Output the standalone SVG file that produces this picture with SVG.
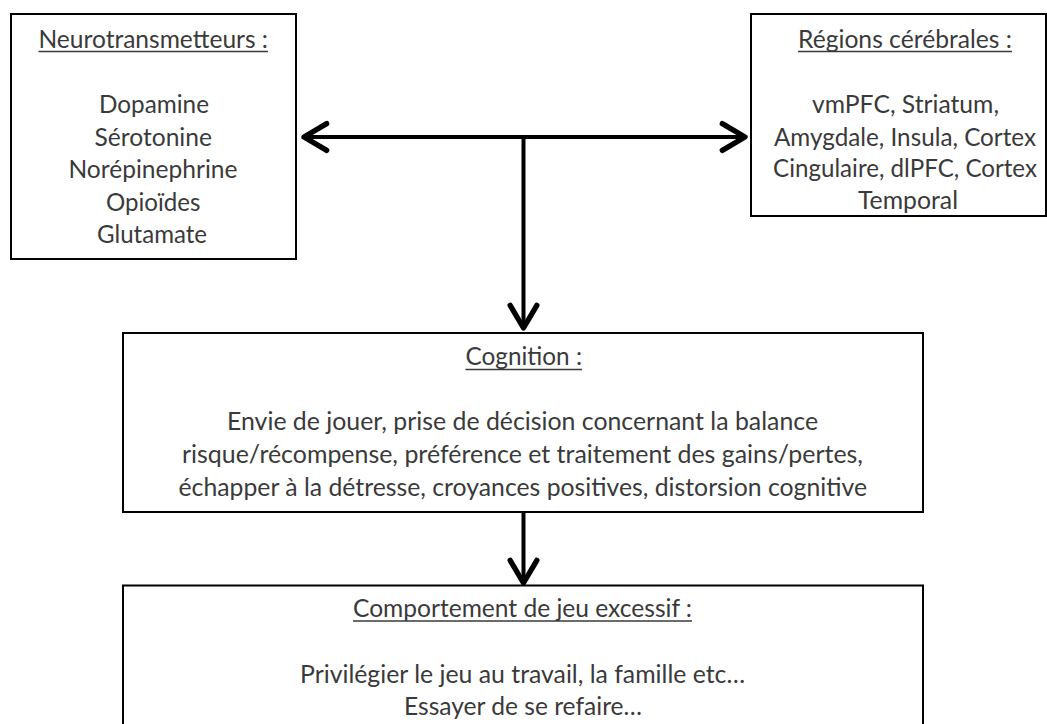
<svg xmlns="http://www.w3.org/2000/svg" width="1047" height="724" viewBox="0 0 1047 724">
<defs>
<style>
.box{fill:#fff;stroke:#000;stroke-width:2}
.t{font-family:Lato,"Open Sans","Liberation Sans",sans-serif;font-size:24.5px;fill:#3a3a3a}
.ul{stroke:#3a3a3a;stroke-width:1.5}
.con{stroke:#000;stroke-width:4;fill:none}
</style>
<marker id="arr" markerUnits="userSpaceOnUse" markerWidth="40" markerHeight="40" viewBox="-25 -15 30 30" refX="0" refY="0" orient="auto-start-reverse" overflow="visible">
<path d="M-17,-10 L0,0 L-17,10" fill="none" stroke="#000" stroke-width="4" stroke-linejoin="round" stroke-linecap="round"/>
</marker>
</defs>
<rect width="1047" height="724" fill="#fff"/>
<g id="neurotransmetteurs">
<rect class="box" x="11" y="14" width="285" height="245"/>
<text class="t" x="38.5" y="48" textLength="229.5" lengthAdjust="spacingAndGlyphs">Neurotransmetteurs :</text>
<line class="ul" x1="38.5" y1="51.5" x2="268" y2="51.5"/>
<text class="t" x="99" y="113" textLength="110" lengthAdjust="spacingAndGlyphs">Dopamine</text>
<text class="t" x="94.5" y="145.5" textLength="117.5" lengthAdjust="spacingAndGlyphs">Sérotonine</text>
<text class="t" x="68.5" y="178" textLength="169" lengthAdjust="spacingAndGlyphs">Norépinephrine</text>
<text class="t" x="106" y="210.5" textLength="94.5" lengthAdjust="spacingAndGlyphs">Opioïdes</text>
<text class="t" x="97" y="243" textLength="110" lengthAdjust="spacingAndGlyphs">Glutamate</text>
</g>
<g id="regions">
<rect class="box" x="751" y="14" width="295" height="202"/>
<text class="t" x="798" y="48" textLength="214" lengthAdjust="spacingAndGlyphs">Régions cérébrales :</text>
<line class="ul" x1="798" y1="51.5" x2="1012" y2="51.5"/>
<text class="t" x="812" y="113" textLength="187" lengthAdjust="spacingAndGlyphs">vmPFC, Striatum,</text>
<text class="t" x="774" y="145.5" textLength="262" lengthAdjust="spacingAndGlyphs">Amygdale, Insula, Cortex</text>
<text class="t" x="773" y="177" textLength="264" lengthAdjust="spacingAndGlyphs">Cingulaire, dlPFC, Cortex</text>
<text class="t" x="858" y="208.5" textLength="100" lengthAdjust="spacingAndGlyphs">Temporal</text>
</g>
<g id="cognition">
<rect class="box" x="123" y="333" width="800" height="179"/>
<text class="t" x="465.5" y="365" textLength="116.5" lengthAdjust="spacingAndGlyphs">Cognition :</text>
<line class="ul" x1="465.5" y1="369.5" x2="582" y2="369.5"/>
<text class="t" x="227" y="430" textLength="591" lengthAdjust="spacingAndGlyphs">Envie de jouer, prise de décision concernant la balance</text>
<text class="t" x="182" y="463" textLength="681" lengthAdjust="spacingAndGlyphs">risque/récompense, préférence et traitement des gains/pertes,</text>
<text class="t" x="178.5" y="496" textLength="688.5" lengthAdjust="spacingAndGlyphs">échapper à la détresse, croyances positives, distorsion cognitive</text>
</g>
<g id="comportement">
<rect class="box" x="123" y="585.5" width="800" height="200"/>
<text class="t" x="353" y="617" textLength="339" lengthAdjust="spacingAndGlyphs">Comportement de jeu excessif :</text>
<line class="ul" x1="353" y1="621" x2="692" y2="621"/>
<text class="t" x="300" y="683" textLength="445" lengthAdjust="spacingAndGlyphs">Privilégier le jeu au travail, la famille etc…</text>
<text class="t" x="404" y="715" textLength="238" lengthAdjust="spacingAndGlyphs">Essayer de se refaire…</text>
</g>
<g id="connectors">
<line class="con" x1="304" y1="137" x2="745" y2="137" marker-start="url(#arr)" marker-end="url(#arr)"/>
<line class="con" x1="523.5" y1="137" x2="523.5" y2="328" marker-end="url(#arr)"/>
<line class="con" x1="523.5" y1="512" x2="523.5" y2="583" marker-end="url(#arr)"/>
</g>
</svg>
